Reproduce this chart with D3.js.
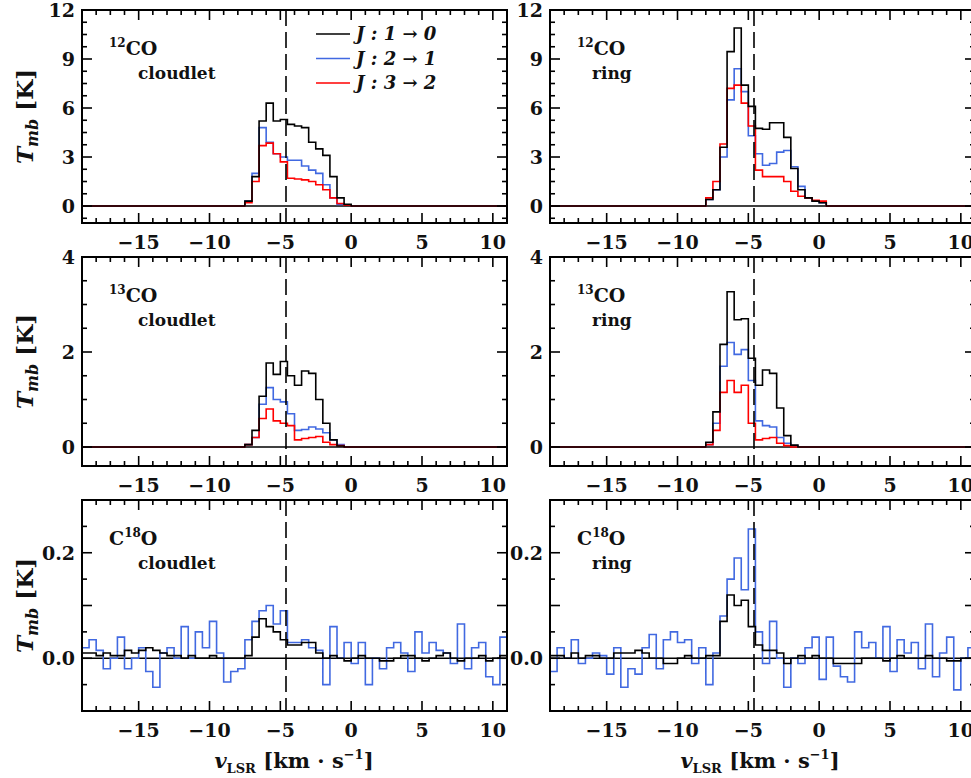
<!DOCTYPE html>
<html>
<head>
<meta charset="utf-8">
<script src="https://cdn.jsdelivr.net/npm/d3@7"></script>
<style>
  body { margin: 0; background: #fff; }
  text { font-family: "DejaVu Serif", "Liberation Serif", serif; font-weight: bold; fill: #111; }
</style>
</head>
<body>
<svg id="chart" width="971" height="778"></svg>
<script>
// ---- DATA (0.5 km/s channels; values outside the listed range are baseline 0) ----
var vMin = -19, vMax = 11, binW = 0.5;
var vDash = -4.6;
var transitions = ["J : 1 → 0", "J : 2 → 1", "J : 3 → 2"];
var colors = ["#000000", "#4169e1", "#ff0000"];

// 12CO cloudlet, start -7.75
var co12_cl_start = -7.75;
var co12_cl_10 = [0.3, 1.8, 5.2, 6.3, 5.2, 5.3, 5.0, 4.9, 4.8, 3.9, 3.5, 3.1, 1.8, 0.5, 0.1];
var co12_cl_21 = [0.3, 2.0, 4.8, 3.9, 3.2, 3.0, 2.8, 2.8, 2.45, 2.2, 2.0, 1.3, 0.5, 0.1, 0.05];
var co12_cl_32 = [0.2, 1.5, 3.7, 3.85, 3.2, 2.7, 1.7, 1.65, 1.6, 1.5, 1.3, 1.0, 0.5, 0.15, 0.05];
// 12CO ring, start -8.25
var co12_rg_start = -8.25;
var co12_rg_10 = [0.4, 1.0, 3.6, 9.45, 10.9, 7.4, 6.1, 4.75, 4.7, 5.1, 5.1, 4.2, 2.3, 1.0, 0.5, 0.3, 0.2];
var co12_rg_21 = [0.4, 1.0, 3.0, 6.5, 8.4, 7.0, 4.3, 3.2, 2.5, 2.6, 3.3, 3.4, 2.4, 1.2, 0.5, 0.3, 0.2];
var co12_rg_32 = [0.5, 1.5, 3.8, 7.2, 7.4, 6.3, 4.9, 2.2, 1.8, 1.8, 1.8, 1.5, 0.9, 0.6, 0.5, 0.35, 0.3];
// 13CO cloudlet, start -7.75
var co13_cl_start = -7.75;
var co13_cl_10 = [0.05, 0.35, 1.07, 1.77, 1.53, 1.8, 1.5, 1.3, 1.6, 1.55, 1.0, 0.5, 0.15, 0.02];
var co13_cl_21 = [0.05, 0.2, 0.9, 1.25, 1.0, 0.95, 0.7, 0.35, 0.37, 0.42, 0.38, 0.3, 0.15, 0.05];
var co13_cl_32 = [0.05, 0.2, 0.6, 0.8, 0.55, 0.5, 0.45, 0.15, 0.18, 0.2, 0.22, 0.1, 0.05, 0.03];
// 13CO ring, start -8.25
var co13_rg_start = -8.25;
var co13_rg_10 = [0.1, 0.74, 2.16, 3.27, 2.68, 2.7, 1.87, 1.3, 1.62, 1.55, 0.82, 0.24, 0.04];
var co13_rg_21 = [0.05, 0.5, 1.7, 2.2, 1.95, 2.05, 1.4, 0.55, 0.45, 0.42, 0.2, 0.08, 0.03];
var co13_rg_32 = [0.05, 0.35, 1.15, 1.4, 1.15, 1.3, 0.5, 0.15, 0.18, 0.2, 0.08, 0.03, 0.0];
// C18O, full range from -19
var c18_start = -19;
var c18_cl_10 = [0.01, 0.01, 0.005, 0.01, 0.005, 0.005, 0.015, 0.01, 0.015, 0.02, 0.015, 0.01, 0.005, 0.005, 0.0,
  0.005, 0.0, 0.0, 0.005, 0.0, 0.0, 0.0, 0.0, 0.005, 0.04, 0.075, 0.06, 0.05, 0.035, 0.025,
  0.025, 0.03, 0.03, 0.01, 0.0, 0.005, 0.0, -0.005, 0.0, 0.005, 0.0, 0.0, -0.005, -0.005, 0.0,
  0.005, 0.005, 0.0, -0.005, 0.0, 0.005, 0.01, 0.0, -0.005, 0.0, 0.0, 0.005, -0.005, 0.0, 0.005];
var c18_cl_21 = [0.02, 0.035, 0.015, -0.02, 0.0, 0.04, -0.02, 0.0, 0.02, -0.025, -0.055, 0.01, 0.02, 0.0, 0.06,
  0.0, 0.05, 0.02, 0.07, 0.01, -0.045, -0.025, -0.02, 0.035, 0.07, 0.09, 0.1, 0.065, 0.09, 0.03,
  0.03, 0.035, 0.02, 0.015, -0.05, 0.06, 0.0, 0.03, -0.01, 0.03, -0.05, 0.0, -0.02, 0.02, 0.03,
  0.01, -0.025, 0.05, 0.01, 0.03, 0.015, 0.01, -0.01, 0.065, -0.02, 0.02, 0.03, -0.035, -0.05, 0.04];
var c18_rg_10 = [0.005, 0.005, 0.0, 0.01, 0.0, 0.005, 0.005, 0.0, 0.0, 0.01, 0.01, 0.01, 0.015, 0.01, 0.0,
  0.0, -0.01, -0.01, 0.0, 0.005, 0.0, 0.0, 0.005, 0.005, 0.07, 0.12, 0.1, 0.11, 0.06, 0.025,
  0.015, 0.015, 0.01, -0.01, 0.0, 0.005, 0.0, 0.005, 0.0, 0.0, -0.01, -0.01, -0.01, -0.01, 0.0,
  0.0, 0.0, -0.005, 0.0, 0.005, 0.0, 0.0, 0.0, 0.005, 0.0, 0.0, -0.005, -0.005, 0.0, 0.0];
var c18_rg_21 = [-0.025, 0.02, 0.0, 0.035, -0.01, 0.0, 0.01, 0.005, -0.03, 0.02, -0.055, -0.02, -0.03, 0.02, 0.045,
  -0.02, 0.035, 0.05, 0.03, 0.035, -0.01, 0.02, -0.05, 0.01, 0.08, 0.15, 0.19, 0.13, 0.245, 0.05,
  -0.01, 0.07, 0.0, -0.055, 0.0, -0.01, 0.02, 0.04, -0.04, 0.04, -0.015, -0.035, -0.045, 0.05, 0.02,
  0.03, 0.0, 0.06, -0.025, 0.035, 0.01, 0.03, -0.02, 0.065, -0.035, 0.01, 0.04, -0.06, 0.0, 0.02];

var rowTitles = [["12", "CO", ""], ["13", "CO", ""], ["18", "C", "O"]];
var colNames = ["cloudlet", "ring"];

// ---- LAYOUT ----
var colX = [[82, 507], [550, 975]];
var rowY = [[10, 223], [257, 466], [500, 711]];
var yDomains = [[-1.04, 12], [-0.4, 4], [-0.1, 0.3]];
var yMajor = [[0, 3, 6, 9, 12], [0, 2, 4], [0.0, 0.2]];
var yMinorStep = [0.75, 0.5, 0.05];
var yFmt = [d3.format("d"), d3.format("d"), d3.format(".1f")];

var panels = [
  {row: 0, col: 0, start: co12_cl_start, series: [co12_cl_10, co12_cl_21, co12_cl_32]},
  {row: 0, col: 1, start: co12_rg_start, series: [co12_rg_10, co12_rg_21, co12_rg_32]},
  {row: 1, col: 0, start: co13_cl_start, series: [co13_cl_10, co13_cl_21, co13_cl_32]},
  {row: 1, col: 1, start: co13_rg_start, series: [co13_rg_10, co13_rg_21, co13_rg_32]},
  {row: 2, col: 0, start: c18_start, series: [c18_cl_10, c18_cl_21]},
  {row: 2, col: 1, start: c18_start, series: [c18_rg_10, c18_rg_21]}
];

var svg = d3.select("#chart");
var defs = svg.append("defs");
var nBins = Math.round((vMax - vMin) / binW);

// build full channel list: baseline 0 outside the listed values
function channels(start, vals) {
  var out = [];
  var off = Math.round((start - vMin) / binW);
  for (var i = 0; i <= nBins; i++) {
    var j = i - off;
    out.push({v: vMin + i * binW, t: (j >= 0 && j < vals.length && i < nBins) ? vals[j] : 0});
  }
  return out;
}

panels.forEach(function(p, pi) {
  var x = d3.scaleLinear().domain([vMin, vMax]).range(colX[p.col]);
  var y = d3.scaleLinear().domain(yDomains[p.row]).range([rowY[p.row][1], rowY[p.row][0]]);
  var x0 = colX[p.col][0], x1 = colX[p.col][1], y0 = rowY[p.row][0], y1 = rowY[p.row][1];
  var g = svg.append("g");

  defs.append("clipPath").attr("id", "clip" + pi)
    .append("rect").attr("x", x0).attr("y", y0).attr("width", x1 - x0).attr("height", y1 - y0);
  var plot = g.append("g").attr("clip-path", "url(#clip" + pi + ")");

  // zero line
  plot.append("line").attr("x1", x0).attr("x2", x1).attr("y1", y(0)).attr("y2", y(0))
    .attr("stroke", "#000").attr("stroke-width", 1.4);

  var line = d3.line().x(function(d) { return x(d.v); }).y(function(d) { return y(d.t); })
    .curve(d3.curveStepAfter);
  // blue/red under black for CO, blue under black for C18O
  var order = p.series.length === 3 ? [1, 2, 0] : [1, 0];
  order.forEach(function(si) {
    plot.append("path").datum(channels(p.start, p.series[si]))
      .attr("d", line).attr("fill", "none")
      .attr("stroke", colors[si]).attr("stroke-width", 1.6);
  });

  // dashed line
  plot.append("line").attr("x1", x(vDash)).attr("x2", x(vDash)).attr("y1", y0).attr("y2", y1)
    .attr("stroke", "#000").attr("stroke-width", 1.6).attr("stroke-dasharray", "16,6");

  // frame
  g.append("rect").attr("x", x0).attr("y", y0).attr("width", x1 - x0).attr("height", y1 - y0)
    .attr("fill", "none").attr("stroke", "#000").attr("stroke-width", 2);

  // ticks (inward on all sides)
  d3.range(-19, 12, 1).forEach(function(v) {
    var L = (v % 5 === 0) ? 10 : 5;
    g.append("line").attr("x1", x(v)).attr("x2", x(v)).attr("y1", y1).attr("y2", y1 - L).attr("stroke", "#000").attr("stroke-width", 1.6);
    g.append("line").attr("x1", x(v)).attr("x2", x(v)).attr("y1", y0).attr("y2", y0 + L).attr("stroke", "#000").attr("stroke-width", 1.6);
  });
  var yd = yDomains[p.row], st = yMinorStep[p.row];
  for (var k = Math.ceil(yd[0] / st); k * st <= yd[1] + 1e-9; k++) {
    var val = k * st;
    var isMajor = yMajor[p.row].some(function(m) { return Math.abs(m - val) < 1e-9; }) ||
      (p.row === 2 && Math.abs(val / 0.1 - Math.round(val / 0.1)) < 1e-6);
    var L = isMajor ? 10 : 5;
    g.append("line").attr("x1", x0).attr("x2", x0 + L).attr("y1", y(val)).attr("y2", y(val)).attr("stroke", "#000").attr("stroke-width", 1.6);
    g.append("line").attr("x1", x1).attr("x2", x1 - L).attr("y1", y(val)).attr("y2", y(val)).attr("stroke", "#000").attr("stroke-width", 1.6);
  }

  // tick labels
  [-15, -10, -5, 0, 5, 10].forEach(function(v) {
    g.append("text").attr("x", x(v)).attr("y", y1 + 26).attr("text-anchor", "middle")
      .attr("font-size", 19).text(v < 0 ? "\u2212" + Math.abs(v) : v);
  });
  yMajor[p.row].forEach(function(v) {
    g.append("text").attr("x", x0 - 7).attr("y", y(v) + 7).attr("text-anchor", "end")
      .attr("font-size", 19).text(yFmt[p.row](v));
  });

  // panel labels
  var t = rowTitles[p.row];
  var lab = g.append("text").attr("x", x0 + 27).attr("y", y0 + 45).attr("font-size", 19);
  if (p.row < 2) {
    lab.append("tspan").attr("font-size", 12).attr("dy", -8).text(t[0]);
    lab.append("tspan").attr("dy", 8).text(t[1]);
  } else {
    lab.append("tspan").text(t[1]);
    lab.append("tspan").attr("font-size", 12).attr("dy", -8).text(t[0]);
    lab.append("tspan").attr("dy", 8).text(t[2]);
  }
  g.append("text").attr("x", x0 + (p.col === 0 ? 56 : 42)).attr("y", y0 + 69).attr("font-size", 17)
    .text(colNames[p.col]);

  // legend in first panel
  if (pi === 0) {
    transitions.forEach(function(tr, i) {
      var ly = y0 + 24 + i * 24.5;
      g.append("line").attr("x1", 316).attr("x2", 350).attr("y1", ly).attr("y2", ly)
        .attr("stroke", colors[i]).attr("stroke-width", 1.6);
      g.append("text").attr("x", 356).attr("y", ly + 6).attr("font-size", 18)
        .attr("font-style", "italic").text(tr);
    });
  }
});

// axis titles
rowY.forEach(function(r) {
  var cy = (r[0] + r[1]) / 2;
  var tt = svg.append("text").attr("transform", "translate(33," + cy + ") rotate(-90)")
    .attr("text-anchor", "middle").attr("font-size", 23);
  tt.append("tspan").attr("font-style", "italic").text("T");
  tt.append("tspan").attr("font-style", "italic").attr("font-size", 16).attr("dy", 5).text("mb");
  tt.append("tspan").attr("dy", -5).text(" [K]");
});
colX.forEach(function(c, i) {
  var cx = i === 0 ? 294 : 760;
  var tt = svg.append("text").attr("x", cx).attr("y", 768).attr("text-anchor", "middle").attr("font-size", 21);
  tt.append("tspan").attr("font-style", "italic").text("v");
  tt.append("tspan").attr("font-size", 13).attr("dy", 5).text("LSR");
  tt.append("tspan").attr("dy", -5).text(" [km \u00b7 s");
  tt.append("tspan").attr("font-size", 13).attr("dy", -9).text("\u22121");
  tt.append("tspan").attr("dy", 9).text("]");
});
</script>
</body>
</html>
